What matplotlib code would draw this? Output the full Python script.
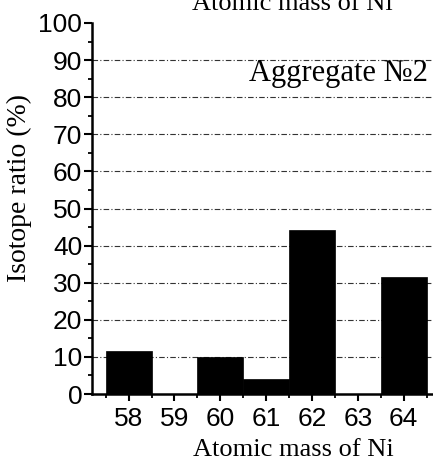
import matplotlib
matplotlib.use("Agg")
import matplotlib.pyplot as plt
import matplotlib.ticker as ticker

## DATA ##
MASSES = [58, 59, 60, 61, 62, 63, 64]
RATIOS = [11.6, 0.0, 10.0, 4.0, 44.2, 0.0, 31.6]
Y_TICKS = [0, 10, 20, 30, 40, 50, 60, 70, 80, 90, 100]
GRID_LEVELS = [10, 20, 30, 40, 50, 60, 70, 80, 90]

SERIF = "Liberation Serif"
SANS = "Liberation Sans"

fig = plt.figure(figsize = (4.33, 4.62), dpi = 100)
ax = fig.add_axes([92 / 433, 68 / 462, 1 - 92 / 433, (439 - 68) / 462])

# dash-dot grid, drawn under the bars
for level in GRID_LEVELS:
	ax.axhline(
		level,
		color = "#333333",
		linewidth = 0.8,
		linestyle = (0, (5, 2, 1, 2)),
		zorder = 1
	)

ax.bar(
	MASSES,
	RATIOS,
	width = 1.0,
	color = "black",
	edgecolor = "black",
	linewidth = 0.5,
	zorder = 2
)

ax.set_xlim(57.2, 64.64)
ax.set_ylim(0, 100)

ax.set_xticks(MASSES)
ax.xaxis.set_minor_locator(ticker.FixedLocator([m + 0.5 for m in [57] + MASSES]))
ax.set_yticks(Y_TICKS)
ax.yaxis.set_minor_locator(ticker.MultipleLocator(5))

for spine in ["top", "right"]:
	ax.spines[spine].set_visible(False)
for spine in ["left", "bottom"]:
	ax.spines[spine].set_linewidth(1.8)

ax.tick_params(axis = "x", which = "major", direction = "out", length = 5, width = 1.5, pad = 4)
ax.tick_params(axis = "x", which = "minor", direction = "out", length = 3, width = 1.3)
ax.tick_params(axis = "y", which = "major", direction = "out", length = 6, width = 1.5, pad = 1)
ax.tick_params(axis = "y", which = "minor", direction = "out", length = 3, width = 1.3)

for label in ax.get_xticklabels() + ax.get_yticklabels():
	label.set_fontfamily(SANS)
	label.set_fontsize(19)

ax.set_xlabel("Atomic mass of Ni", fontfamily = SERIF, fontsize = 19)
ax.xaxis.set_label_coords(0.59, -0.12)
ax.set_ylabel("Isotope ratio (%)", fontfamily = SERIF, fontsize = 20)
ax.yaxis.set_label_coords(-0.175, 0.555)

ax.text(
	0.985, 0.845, "Aggregate №2",
	transform = ax.transAxes,
	ha = "right", va = "baseline",
	fontfamily = SERIF, fontsize = 22
)

# cut-off heading at the top of the crop
fig.text(
	292 / 433, (462 - 10) / 462, "Atomic mass of Ni",
	ha = "center", va = "baseline",
	fontfamily = SERIF, fontsize = 19
)

fig.savefig("out.png", dpi = 100)
